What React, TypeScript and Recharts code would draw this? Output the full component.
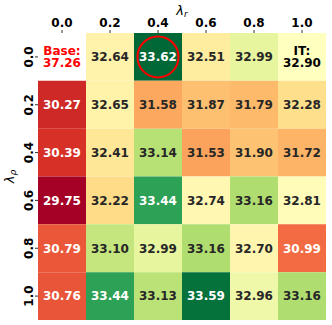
import React from 'react';
import { ScatterChart, Scatter, XAxis, YAxis, ReferenceArea, ReferenceDot } from 'recharts';

const colLabels = ['0.0', '0.2', '0.4', '0.6', '0.8', '1.0'];
const rowLabels = ['0.0', '0.2', '0.4', '0.6', '0.8', '1.0'];

const row00: (number | null)[] = [null, 32.64, 33.62, 32.51, 32.99, 32.9];
const row02 = [30.27, 32.65, 31.58, 31.87, 31.79, 32.28];
const row04 = [30.39, 32.41, 33.14, 31.53, 31.9, 31.72];
const row06 = [29.75, 32.22, 33.44, 32.74, 33.16, 32.81];
const row08 = [30.79, 33.1, 32.99, 33.16, 32.7, 30.99];
const row10 = [30.76, 33.44, 33.13, 33.59, 32.96, 33.16];
const rows = [row00, row02, row04, row06, row08, row10];

const baseLabel = 'Base:';
const baseValue = 37.26;
const itLabel = 'IT:';
const itCol = 5;
const itValue = 32.9;

const normMin = 29.75;
const normCenter = 32.9;
const normMax = 33.62;

const highlightRow = 0;
const highlightCol = 2;

const FONT = '"DejaVu Sans", sans-serif';

const RdYlGn = [
  '#a50026', '#d73027', '#f46d43', '#fdae61', '#fee08b', '#ffffbf',
  '#d9ef8b', '#a6d96a', '#66bd63', '#1a9850', '#006837',
];

const hexToRgb = (h: string) => [
  parseInt(h.slice(1, 3), 16) / 255,
  parseInt(h.slice(3, 5), 16) / 255,
  parseInt(h.slice(5, 7), 16) / 255,
];

const cmap = (t: number) => {
  const tt = Math.max(0, Math.min(1, t));
  const pos = tt * (RdYlGn.length - 1);
  const i = Math.min(RdYlGn.length - 2, Math.floor(pos));
  const f = pos - i;
  const a = hexToRgb(RdYlGn[i]);
  const b = hexToRgb(RdYlGn[i + 1]);
  return a.map((v, k) => v + (b[k] - v) * f);
};

const norm = (v: number) =>
  v <= normCenter
    ? 0.5 * (v - normMin) / (normCenter - normMin)
    : 0.5 + 0.5 * (v - normCenter) / (normMax - normCenter);

const toHex = (rgb: number[]) =>
  '#' + rgb.map((c) => Math.round(c * 255).toString(16).padStart(2, '0')).join('');

const luminance = (rgb: number[]) => {
  const lin = rgb.map((c) => (c <= 0.03928 ? c / 12.92 : Math.pow((c + 0.055) / 1.055, 2.4)));
  return 0.2126 * lin[0] + 0.7152 * lin[1] + 0.0722 * lin[2];
};

type Cell = { x: number; y: number; fill: string; lines: string[]; color: string };

const cells: Cell[] = [];
rows.forEach((row, r) => {
  row.forEach((v, c) => {
    if (v === null) {
      cells.push({ x: c, y: r, fill: '#ffffff', lines: [baseLabel, baseValue.toFixed(2)], color: '#ff0000' });
    } else {
      const rgb = cmap(norm(v));
      const isIT = r === 0 && c === itCol;
      cells.push({
        x: c,
        y: r,
        fill: toHex(rgb),
        lines: isIT ? [itLabel, itValue.toFixed(2)] : [v.toFixed(2)],
        color: isIT ? '#000000' : luminance(rgb) > 0.408 ? '#262626' : '#ffffff',
      });
    }
  });
});

const CellLabel = (props: any) => {
  const vb = props.viewBox || props;
  const cx = vb.x + vb.width / 2;
  const cy = vb.y + vb.height / 2;
  const { lines, color } = props;
  const common = { fontFamily: FONT, fontWeight: 'bold', fontSize: 12, fill: color, textAnchor: 'middle' as const };
  if (lines.length === 1) {
    return (
      <text x={cx} y={cy} dy="0.36em" {...common}>
        {lines[0]}
      </text>
    );
  }
  return (
    <g>
      <text x={cx} y={cy - 1.8} {...common}>{lines[0]}</text>
      <text x={cx} y={cy + 10.3} {...common}>{lines[1]}</text>
    </g>
  );
};

const XTick = (props: any) => {
  const { x, y, payload } = props;
  return (
    <text x={x} y={y} textAnchor="middle" fontFamily={FONT} fontWeight="bold" fontSize={12} fill="#000">
      {colLabels[payload.value]}
    </text>
  );
};

const YTick = (props: any) => {
  const { x, y, payload } = props;
  return (
    <text
      x={x}
      y={y}
      transform={`rotate(-90, ${x}, ${y})`}
      textAnchor="middle"
      fontFamily={FONT}
      fontWeight="bold"
      fontSize={12}
      fill="#000"
    >
      {rowLabels[payload.value]}
    </text>
  );
};

const XAxisTitle = (props: any) => {
  const vb = props.viewBox;
  const cx = vb.x + vb.width / 2;
  return (
    <text x={cx} y={vb.y + 15} textAnchor="middle" fontFamily={FONT} fontSize={13} fill="#000">
      <tspan fontStyle="italic">λ</tspan>
      <tspan fontStyle="italic" fontSize={9} dy={2}>r</tspan>
    </text>
  );
};

const YAxisTitle = (props: any) => {
  const vb = props.viewBox;
  const x = vb.x + 14;
  const y = vb.y + vb.height / 2;
  return (
    <text x={x} y={y} transform={`rotate(-90, ${x}, ${y})`} textAnchor="middle" fontFamily={FONT} fontSize={13} fill="#000">
      <tspan fontStyle="italic">λ</tspan>
      <tspan fontStyle="italic" fontSize={9} dy={2}>ρ</tspan>
    </text>
  );
};

const idx = [0, 1, 2, 3, 4, 5];

export default function App() {
  return (
    <div style={{ position: 'absolute', left: 0, top: 0, background: '#fff' }}>
      <ScatterChart width={332} height={325} margin={{ top: 0, right: 6, bottom: 5, left: 0 }}>
        <XAxis
          type="number"
          dataKey="x"
          orientation="top"
          domain={[-0.5, 5.5]}
          ticks={idx}
          interval={0}
          height={33}
          axisLine={false}
          tickLine={{ stroke: '#333' }}
          tickSize={3}
          tickMargin={3}
          tick={<XTick />}
          label={<XAxisTitle />}
          allowDataOverflow
        />
        <YAxis
          type="number"
          dataKey="y"
          reversed
          domain={[-0.5, 5.5]}
          ticks={idx}
          interval={0}
          width={38}
          axisLine={false}
          tickLine={{ stroke: '#333' }}
          tickSize={3}
          tickMargin={2}
          tick={<YTick />}
          label={<YAxisTitle />}
          allowDataOverflow
        />
        {cells.map((c) => (
          <ReferenceArea
            key={`${c.x}-${c.y}`}
            x1={c.x - 0.5}
            x2={c.x + 0.5}
            y1={c.y - 0.5}
            y2={c.y + 0.5}
            fill={c.fill}
            fillOpacity={1}
            stroke="none"
            ifOverflow="visible"
            label={<CellLabel lines={c.lines} color={c.color} />}
          />
        ))}
        <Scatter data={cells} isAnimationActive={false} shape={() => <g />} />
        <ReferenceDot
          x={highlightCol}
          y={highlightRow}
          r={20.5}
          fill="none"
          stroke="#ff0000"
          strokeWidth={2}
          ifOverflow="visible"
        />
      </ScatterChart>
    </div>
  );
}
